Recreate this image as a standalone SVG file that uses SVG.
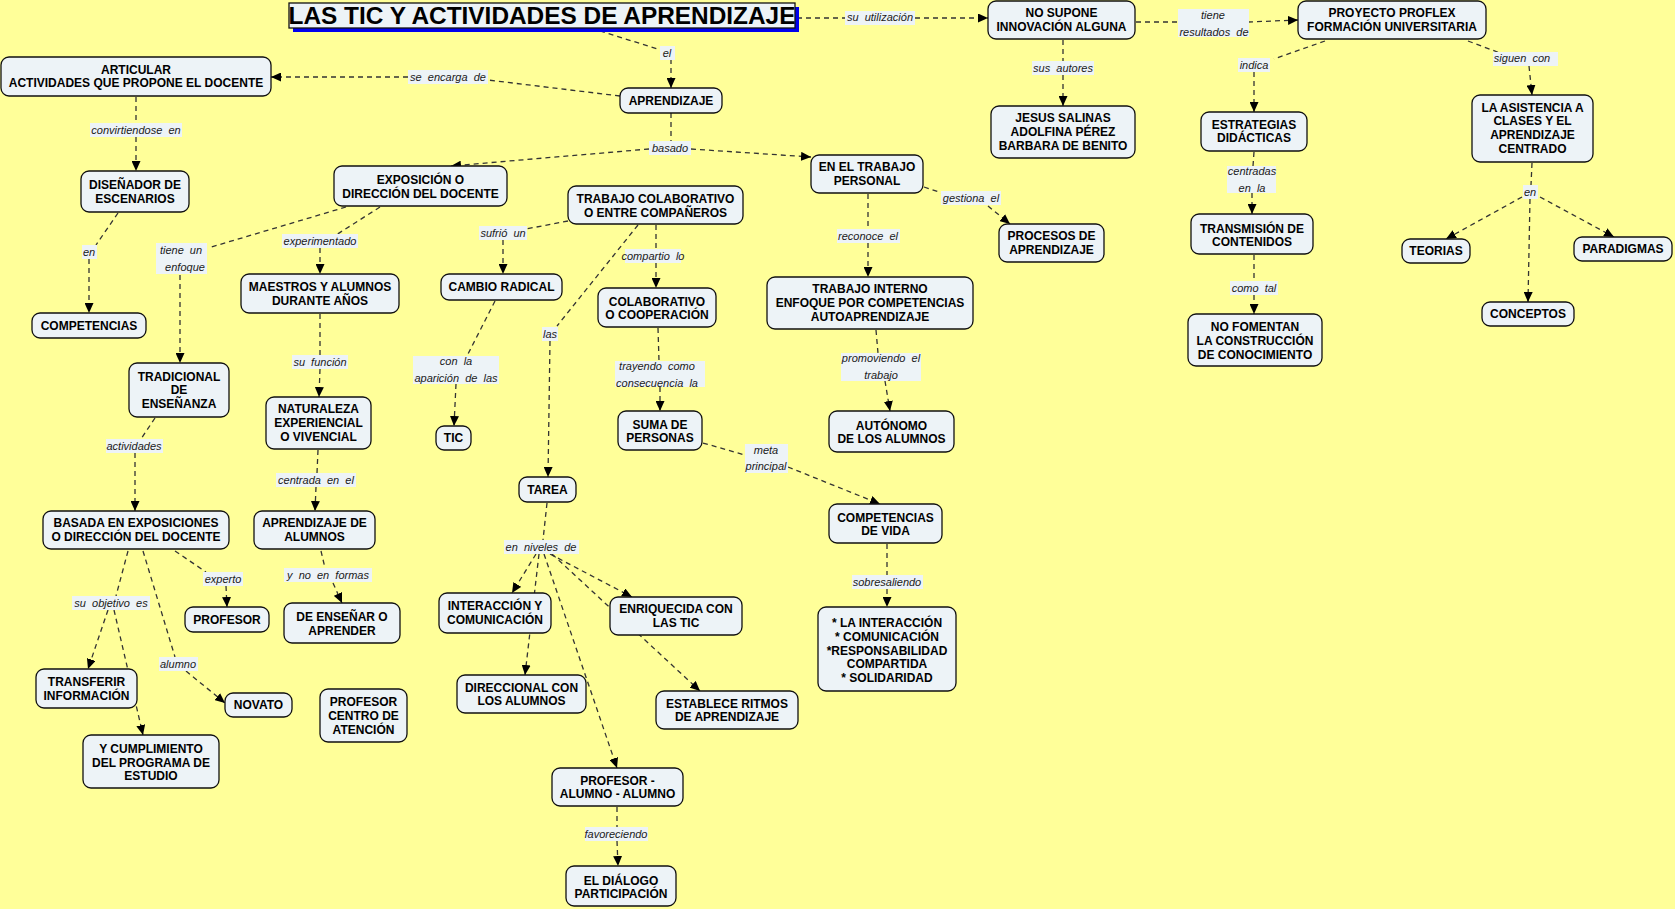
<svg xmlns="http://www.w3.org/2000/svg" width="1675" height="909" viewBox="0 0 1675 909">
<defs>
<style>
.n rect{fill:#edf3f7;stroke:#111;stroke-width:1.3}
.n text{font-family:"Liberation Sans",Arial,sans-serif;font-weight:bold;font-size:12px;text-anchor:middle;fill:#000}
.c path{fill:none;stroke:#333;stroke-width:1.3;stroke-dasharray:5 4}
.c path.ar{marker-end:url(#ah)}
.lb rect{fill:#edf3f7}
.lb text{font-family:"Liberation Sans",Arial,sans-serif;font-style:italic;font-size:11px;text-anchor:middle;fill:#1a1a1a;white-space:pre}
.tt{font-family:"Liberation Sans",Arial,sans-serif;font-weight:bold;font-size:24.4px;text-anchor:middle;fill:#000}
</style>
<marker id="ah" viewBox="0 0 10 9" refX="10" refY="4.5" markerWidth="10" markerHeight="9" markerUnits="userSpaceOnUse" orient="auto"><path d="M0,0 L10,4.5 L0,9 z" fill="#000"/></marker>
</defs>
<rect x="0" y="0" width="1675" height="909" fill="#ffff99"/>

<g id="connectors" class="c">
<path d="M797,18 L845,18"/><path class="ar" d="M915,18 L988,18"/>
<path d="M600,31 L661,50"/><path class="ar" d="M671,59 L671,88"/>
<path d="M620,96 L488,80"/><path class="ar" d="M408,77 L271,77"/>
<path d="M671,113 L671,141"/><path class="ar" d="M649,149 L451,166"/><path class="ar" d="M691,149 L811,157"/>
<path d="M136,97 L136,123"/><path class="ar" d="M136,137 L136,171"/>
<path d="M118,213 L96,245"/><path class="ar" d="M89,259 L89,313"/>
<path d="M346,207 L208,248"/><path class="ar" d="M180,275 L180,363"/>
<path d="M380,207 L336,235"/><path class="ar" d="M320,248 L320,274"/>
<path d="M320,314 L320,355"/><path class="ar" d="M320,369 L319,397"/>
<path d="M318,450 L317,473"/><path class="ar" d="M316,487 L315,511"/>
<path d="M321,551 L325,568"/><path class="ar" d="M333,583 L342,603"/>
<path d="M155,418 L141,439"/><path class="ar" d="M135,453 L135,511"/>
<path d="M175,551 L206,572"/><path class="ar" d="M226,586 L227,607"/>
<path d="M128,551 L116,596"/><path class="ar" d="M108,610 L88,669"/><path class="ar" d="M114,610 L143,735"/>
<path d="M143,551 L175,657"/><path class="ar" d="M186,671 L225,703"/>
<path d="M568,221 L526,229"/><path class="ar" d="M503,240 L503,274"/>
<path d="M656,225 L656,249"/><path class="ar" d="M656,263 L656,288"/>
<path d="M638,225 L557,326"/><path class="ar" d="M550,341 L548,477"/>
<path d="M495,301 L467,356"/><path class="ar" d="M456,384 L454,426"/>
<path d="M658,328 L659,361"/><path class="ar" d="M660,387 L660,411"/>
<path d="M703,443 L745,455"/><path class="ar" d="M788,467 L880,504"/>
<path d="M547,503 L543,540"/><path class="ar" d="M536,554 L512,593"/><path class="ar" d="M539,554 L525,675"/><path class="ar" d="M544,554 L617,768"/><path class="ar" d="M550,554 L632,597"/><path class="ar" d="M552,554 L700,691"/>
<path d="M617,807 L617,827"/><path class="ar" d="M617,841 L618,866"/>
<path d="M868,194 L868,229"/><path class="ar" d="M868,243 L868,277"/>
<path d="M924,187 L942,193"/><path class="ar" d="M988,206 L1010,224"/>
<path d="M876,330 L878,353"/><path class="ar" d="M885,381 L890,411"/>
<path d="M887,544 L887,575"/><path class="ar" d="M887,589 L887,607"/>
<path d="M1063,40 L1063,61"/><path class="ar" d="M1063,75 L1063,106"/>
<path d="M1136,22 L1178,22"/><path class="ar" d="M1248,22 L1298,20"/>
<path d="M1325,41 L1274,59"/><path class="ar" d="M1254,72 L1254,112"/>
<path d="M1254,152 L1253,166"/><path class="ar" d="M1252,193 L1252,214"/>
<path d="M1254,255 L1254,281"/><path class="ar" d="M1254,295 L1254,314"/>
<path d="M1468,41 L1500,53"/><path class="ar" d="M1529,66 L1532,95"/>
<path d="M1532,163 L1531,185"/><path class="ar" d="M1522,197 L1446,239"/><path class="ar" d="M1530,199 L1528,302"/><path class="ar" d="M1540,197 L1614,237"/>
</g>

<g id="labels" class="lb">
<rect x="845" y="11" width="70" height="14"/><text x="880" y="21">su  utilización</text>
<rect x="660" y="46" width="15" height="14"/><text x="667" y="57">el</text>
<rect x="408" y="70" width="80" height="14"/><text x="448" y="81">se  encarga  de</text>
<rect x="649" y="141" width="42" height="14"/><text x="670" y="152">basado</text>
<rect x="90" y="123" width="92" height="14"/><text x="136" y="134">convirtiendose  en</text>
<rect x="82" y="245" width="15" height="14"/><text x="89" y="256">en</text>
<rect x="156" y="243" width="51" height="31"/><text x="181" y="254">tiene  un</text><text x="185" y="271">enfoque</text>
<rect x="282" y="234" width="76" height="14"/><text x="320" y="245">experimentado</text>
<rect x="292" y="355" width="56" height="14"/><text x="320" y="366">su  función</text>
<rect x="276" y="473" width="80" height="14"/><text x="316" y="484">centrada  en  el</text>
<rect x="284" y="568" width="88" height="14"/><text x="328" y="579">y  no  en  formas</text>
<rect x="106" y="439" width="57" height="14"/><text x="134" y="450">actividades</text>
<rect x="203" y="572" width="40" height="14"/><text x="223" y="583">experto</text>
<rect x="72" y="596" width="78" height="14"/><text x="111" y="607">su  objetivo  es</text>
<rect x="159" y="657" width="39" height="14"/><text x="178" y="668">alumno</text>
<rect x="479" y="226" width="48" height="14"/><text x="503" y="237">sufrió  un</text>
<rect x="625" y="249" width="56" height="14"/><text x="653" y="260">compartio  lo</text>
<rect x="542" y="327" width="16" height="14"/><text x="550" y="338">las</text>
<rect x="413" y="356" width="86" height="28"/><text x="456" y="365">con  la</text><text x="456" y="382">aparición  de  las</text>
<rect x="615" y="361" width="90" height="26"/><text x="657" y="370">trayendo  como</text><text x="657" y="387">consecuencia  la</text>
<rect x="745" y="444" width="43" height="29"/><text x="766" y="454">meta</text><text x="766" y="470">principal</text>
<rect x="504" y="540" width="75" height="14"/><text x="541" y="551">en  niveles  de</text>
<rect x="585" y="827" width="63" height="14"/><text x="616" y="838">favoreciendo</text>
<rect x="837" y="229" width="63" height="14"/><text x="868" y="240">reconoce  el</text>
<rect x="941" y="191" width="60" height="14"/><text x="971" y="202">gestiona  el</text>
<rect x="841" y="353" width="80" height="28"/><text x="881" y="362">promoviendo  el</text><text x="881" y="379">trabajo</text>
<rect x="852" y="575" width="71" height="14"/><text x="887" y="586">sobresaliendo</text>
<rect x="1032" y="61" width="62" height="14"/><text x="1063" y="72">sus  autores</text>
<rect x="1178" y="9" width="71" height="28"/><text x="1213" y="19">tiene</text><text x="1214" y="36">resultados  de</text>
<rect x="1238" y="58" width="32" height="14"/><text x="1254" y="69">indica</text>
<rect x="1227" y="166" width="49" height="27"/><text x="1252" y="175">centradas</text><text x="1252" y="192">en  la</text>
<rect x="1230" y="281" width="48" height="14"/><text x="1254" y="292">como  tal</text>
<rect x="1493" y="52" width="65" height="14"/><text x="1522" y="62">siguen  con</text>
<rect x="1523" y="185" width="15" height="14"/><text x="1530" y="196">en</text>
</g>

<g id="title">
<rect x="293" y="7" width="506" height="25" fill="#0000ee"/>
<rect x="289" y="3" width="506" height="25" fill="#edf3f7" stroke="#111" stroke-width="1.3"/>
<text class="tt" x="542" y="24">LAS TIC Y ACTIVIDADES DE APRENDIZAJE</text>
</g>

<g id="n-articular" class="n"><rect x="1" y="57" width="270" height="39" rx="8"/><text><tspan x="136" y="74">ARTICULAR</tspan><tspan x="136" y="87">ACTIVIDADES QUE PROPONE EL DOCENTE</tspan></text></g>
<g id="n-aprendizaje" class="n"><rect x="620" y="88" width="102" height="25" rx="8"/><text x="671" y="105">APRENDIZAJE</text></g>
<g id="n-nosupone" class="n"><rect x="988" y="1" width="147" height="38" rx="8"/><text><tspan x="1061.5" y="17">NO SUPONE</tspan><tspan x="1061.5" y="31">INNOVACIÓN ALGUNA</tspan></text></g>
<g id="n-proflex" class="n"><rect x="1298" y="1" width="188" height="38" rx="8"/><text><tspan x="1392" y="17">PROYECTO PROFLEX</tspan><tspan x="1392" y="31">FORMACIÓN UNIVERSITARIA</tspan></text></g>
<g id="n-jesus" class="n"><rect x="991" y="106" width="144" height="52" rx="8"/><text><tspan x="1063" y="122">JESUS SALINAS</tspan><tspan x="1063" y="136">ADOLFINA PÉREZ</tspan><tspan x="1063" y="150">BARBARA DE BENITO</tspan></text></g>
<g id="n-trabpersonal" class="n"><rect x="811" y="155" width="112" height="38" rx="8"/><text><tspan x="867" y="171">EN EL TRABAJO</tspan><tspan x="867" y="185">PERSONAL</tspan></text></g>
<g id="n-procesos" class="n"><rect x="999" y="224" width="105" height="38" rx="8"/><text><tspan x="1051.5" y="240">PROCESOS DE</tspan><tspan x="1051.5" y="254">APRENDIZAJE</tspan></text></g>
<g id="n-trabinterno" class="n"><rect x="767" y="277" width="206" height="52" rx="8"/><text><tspan x="870" y="293">TRABAJO INTERNO</tspan><tspan x="870" y="307">ENFOQUE POR COMPETENCIAS</tspan><tspan x="870" y="321">AUTOAPRENDIZAJE</tspan></text></g>
<g id="n-autonomo" class="n"><rect x="829" y="411" width="125" height="41" rx="8"/><text><tspan x="891.5" y="430">AUTÓNOMO</tspan><tspan x="891.5" y="443">DE LOS ALUMNOS</tspan></text></g>
<g id="n-compvida" class="n"><rect x="829" y="504" width="113" height="39" rx="8"/><text><tspan x="885.5" y="522">COMPETENCIAS</tspan><tspan x="885.5" y="535">DE VIDA</tspan></text></g>
<g id="n-interaccion" class="n"><rect x="818" y="607" width="138" height="84" rx="8"/><text><tspan x="887" y="627">* LA INTERACCIÓN</tspan><tspan x="887" y="641">* COMUNICACIÓN</tspan><tspan x="887" y="655">*RESPONSABILIDAD</tspan><tspan x="887" y="668">COMPARTIDA</tspan><tspan x="887" y="682">* SOLIDARIDAD</tspan></text></g>
<g id="n-estrategias" class="n"><rect x="1201" y="112" width="106" height="39" rx="8"/><text><tspan x="1254" y="129">ESTRATEGIAS</tspan><tspan x="1254" y="142">DIDÁCTICAS</tspan></text></g>
<g id="n-transmision" class="n"><rect x="1191" y="214" width="122" height="40" rx="8"/><text><tspan x="1252" y="233">TRANSMISIÓN DE</tspan><tspan x="1252" y="246">CONTENIDOS</tspan></text></g>
<g id="n-nofomentan" class="n"><rect x="1188" y="314" width="134" height="52" rx="8"/><text><tspan x="1255" y="331">NO FOMENTAN</tspan><tspan x="1255" y="345">LA CONSTRUCCIÓN</tspan><tspan x="1255" y="359">DE CONOCIMIENTO</tspan></text></g>
<g id="n-asistencia" class="n"><rect x="1472" y="95" width="121" height="67" rx="8"/><text><tspan x="1532.5" y="112">LA ASISTENCIA A</tspan><tspan x="1532.5" y="125">CLASES Y EL</tspan><tspan x="1532.5" y="139">APRENDIZAJE</tspan><tspan x="1532.5" y="153">CENTRADO</tspan></text></g>
<g id="n-teorias" class="n"><rect x="1402" y="239" width="68" height="24" rx="8"/><text x="1436" y="255">TEORIAS</text></g>
<g id="n-paradigmas" class="n"><rect x="1574" y="237" width="98" height="24" rx="8"/><text x="1623" y="253">PARADIGMAS</text></g>
<g id="n-conceptos" class="n"><rect x="1482" y="302" width="92" height="24" rx="8"/><text x="1528" y="318">CONCEPTOS</text></g>
<g id="n-exposicion" class="n"><rect x="334" y="166" width="173" height="40" rx="8"/><text><tspan x="420.5" y="184">EXPOSICIÓN O</tspan><tspan x="420.5" y="198">DIRECCIÓN DEL DOCENTE</tspan></text></g>
<g id="n-trabcolab" class="n"><rect x="568" y="186" width="175" height="38" rx="8"/><text><tspan x="655.5" y="203">TRABAJO COLABORATIVO</tspan><tspan x="655.5" y="217">O ENTRE COMPAÑEROS</tspan></text></g>
<g id="n-cambio" class="n"><rect x="441" y="274" width="121" height="26" rx="8"/><text x="501.5" y="291">CAMBIO RADICAL</text></g>
<g id="n-colaborativo" class="n"><rect x="598" y="288" width="118" height="39" rx="8"/><text><tspan x="657" y="306">COLABORATIVO</tspan><tspan x="657" y="319">O COOPERACIÓN</tspan></text></g>
<g id="n-maestros" class="n"><rect x="241" y="274" width="158" height="39" rx="8"/><text><tspan x="320" y="291">MAESTROS Y ALUMNOS</tspan><tspan x="320" y="305">DURANTE AÑOS</tspan></text></g>
<g id="n-disenador" class="n"><rect x="81" y="171" width="108" height="41" rx="8"/><text><tspan x="135" y="189">DISEÑADOR DE</tspan><tspan x="135" y="203">ESCENARIOS</tspan></text></g>
<g id="n-competencias" class="n"><rect x="32" y="313" width="114" height="25" rx="8"/><text x="89" y="330">COMPETENCIAS</text></g>
<g id="n-tradicional" class="n"><rect x="129" y="363" width="100" height="54" rx="8"/><text><tspan x="179" y="381">TRADICIONAL</tspan><tspan x="179" y="394">DE</tspan><tspan x="179" y="408">ENSEÑANZA</tspan></text></g>
<g id="n-naturaleza" class="n"><rect x="266" y="397" width="105" height="52" rx="8"/><text><tspan x="318.5" y="413">NATURALEZA</tspan><tspan x="318.5" y="427">EXPERIENCIAL</tspan><tspan x="318.5" y="441">O VIVENCIAL</tspan></text></g>
<g id="n-basada" class="n"><rect x="43" y="511" width="186" height="38" rx="8"/><text><tspan x="136" y="527">BASADA EN EXPOSICIONES</tspan><tspan x="136" y="541">O DIRECCIÓN DEL DOCENTE</tspan></text></g>
<g id="n-aprendalumnos" class="n"><rect x="254" y="511" width="121" height="38" rx="8"/><text><tspan x="314.5" y="527">APRENDIZAJE DE</tspan><tspan x="314.5" y="541">ALUMNOS</tspan></text></g>
<g id="n-profesor" class="n"><rect x="185" y="607" width="84" height="25" rx="8"/><text x="227" y="624">PROFESOR</text></g>
<g id="n-ensenar" class="n"><rect x="284" y="603" width="116" height="40" rx="8"/><text><tspan x="342" y="621">DE ENSEÑAR O</tspan><tspan x="342" y="635">APRENDER</tspan></text></g>
<g id="n-transferir" class="n"><rect x="36" y="669" width="101" height="39" rx="8"/><text><tspan x="86.5" y="686">TRANSFERIR</tspan><tspan x="86.5" y="700">INFORMACIÓN</tspan></text></g>
<g id="n-novato" class="n"><rect x="225" y="693" width="67" height="24" rx="8"/><text x="258.5" y="709">NOVATO</text></g>
<g id="n-profcentro" class="n"><rect x="320" y="689" width="87" height="53" rx="8"/><text><tspan x="363.5" y="706">PROFESOR</tspan><tspan x="363.5" y="720">CENTRO DE</tspan><tspan x="363.5" y="734">ATENCIÓN</tspan></text></g>
<g id="n-cumplimiento" class="n"><rect x="83" y="735" width="136" height="53" rx="8"/><text><tspan x="151" y="753">Y CUMPLIMIENTO</tspan><tspan x="151" y="767">DEL PROGRAMA DE</tspan><tspan x="151" y="780">ESTUDIO</tspan></text></g>
<g id="n-tic" class="n"><rect x="436" y="426" width="35" height="24" rx="8"/><text x="453.5" y="442">TIC</text></g>
<g id="n-suma" class="n"><rect x="618" y="411" width="84" height="39" rx="8"/><text><tspan x="660" y="429">SUMA DE</tspan><tspan x="660" y="442">PERSONAS</tspan></text></g>
<g id="n-tarea" class="n"><rect x="519" y="477" width="57" height="25" rx="8"/><text x="547.5" y="494">TAREA</text></g>
<g id="n-interycom" class="n"><rect x="439" y="593" width="112" height="40" rx="8"/><text><tspan x="495" y="610">INTERACCIÓN Y</tspan><tspan x="495" y="624">COMUNICACIÓN</tspan></text></g>
<g id="n-enriquecida" class="n"><rect x="610" y="597" width="132" height="38" rx="8"/><text><tspan x="676" y="613">ENRIQUECIDA CON</tspan><tspan x="676" y="627">LAS TIC</tspan></text></g>
<g id="n-direccional" class="n"><rect x="457" y="675" width="129" height="38" rx="8"/><text><tspan x="521.5" y="692">DIRECCIONAL CON</tspan><tspan x="521.5" y="705">LOS ALUMNOS</tspan></text></g>
<g id="n-establece" class="n"><rect x="656" y="691" width="142" height="38" rx="8"/><text><tspan x="727" y="708">ESTABLECE RITMOS</tspan><tspan x="727" y="721">DE APRENDIZAJE</tspan></text></g>
<g id="n-profalumno" class="n"><rect x="552" y="768" width="131" height="38" rx="8"/><text><tspan x="617.5" y="785">PROFESOR -</tspan><tspan x="617.5" y="798">ALUMNO - ALUMNO</tspan></text></g>
<g id="n-dialogo" class="n"><rect x="566" y="866" width="110" height="40" rx="8"/><text><tspan x="621" y="885">EL DIÁLOGO</tspan><tspan x="621" y="898">PARTICIPACIÓN</tspan></text></g>
</svg>
